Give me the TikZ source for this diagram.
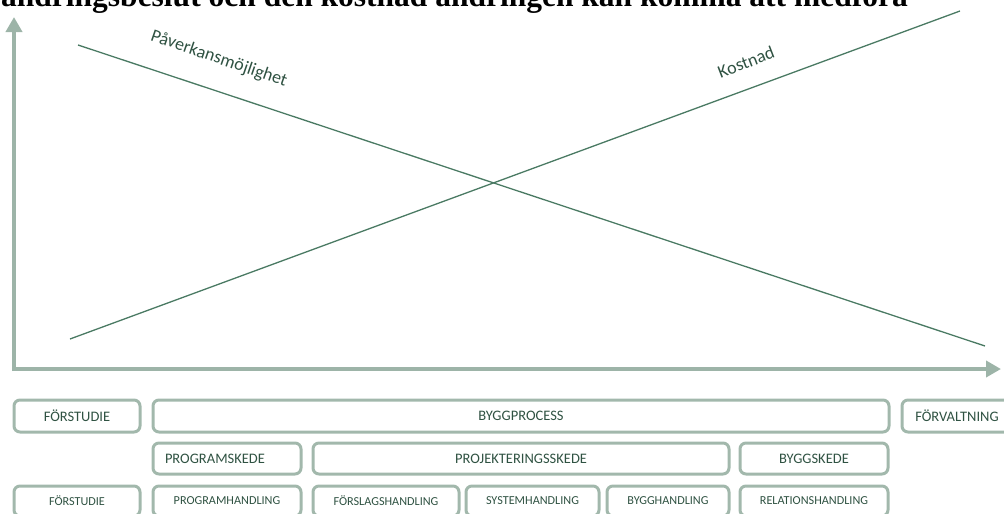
\documentclass[tikz,border=0pt]{standalone}
\usepackage{fontspec}
\setmainfont{Carlito}
\newfontfamily\headfont{Liberation Serif}
\usetikzlibrary{arrows.meta}
\definecolor{axiscol}{HTML}{9DB4A8}
\definecolor{boxcol}{HTML}{A2B8AC}
\definecolor{txtcol}{HTML}{2F5242}
\definecolor{linecol}{HTML}{4A7A63}
\tikzset{
  axis/.style={draw=axiscol, line width=4pt, -{Triangle[length=15pt,width=16pt]}},
  curve/.style={draw=linecol, line width=1.3pt},
  curvelabel/.style={text=txtcol, font=\fontsize{18}{21}\selectfont, inner sep=0pt},
  phase/.style={draw=boxcol, line width=3pt, rounded corners=6pt, text=txtcol, inner sep=0pt},
  bigtxt/.style={font=\fontsize{14.5}{17}\selectfont},
  smalltxt/.style={font=\fontsize{12.2}{14}\selectfont},
}
\newcommand{\phasebox}[7]{%
  \node[phase, #7, minimum width={(#4)-(#2)}, minimum height={(#5)-(#3)}] (#1) at ({((#2)+(#4))/2},{((#3)+(#5))/2}) {#6};}
\begin{document}
\begin{tikzpicture}[x=1pt,y=-1pt]
\useasboundingbox (0,0) rectangle (1004,514);
\clip (0,0) rectangle (1004,514);
% heading (cut off at top)
\node[anchor=base west, inner sep=0pt, font=\headfont\bfseries\fontsize{31.5}{36}\selectfont] (head) at (1,6.5) {ändringsbeslut och den kostnad ändringen kan komma att medföra};
% axes
\coordinate (origin) at (14,369);
\coordinate (ytop) at (14,17);
\coordinate (xend) at (1001,369);
\draw[axis] ([yshift=-2pt]origin) -- (ytop);
\draw[axis] ([xshift=-2pt]origin) -- (xend);
% curves
\coordinate (p1) at (78,45);
\coordinate (p2) at (985,346);
\coordinate (k1) at (70,339);
\coordinate (k2) at (960,11);
\draw[curve] (p1) -- (p2);
\draw[curve] (k1) -- (k2);
\node[curvelabel, rotate=-19] (plabel) at (219,59) {Påverkansmöjlighet};
\node[curvelabel, rotate=21] (klabel) at (746,62) {Kostnad};
% row 1
\phasebox{f1}{14}{400}{140}{432}{FÖRSTUDIE}{bigtxt}
\phasebox{bp}{153}{400}{889}{432}{BYGGPROCESS}{bigtxt}
\phasebox{fv}{902}{400}{1012}{432}{FÖRVALTNING}{bigtxt}
% row 2
\phasebox{ps}{153}{443}{301}{474}{PROGRAMSKEDE}{bigtxt, text width=124pt, inner xsep=12pt, align=left}
\phasebox{pj}{313}{443}{729}{474}{PROJEKTERINGSSKEDE}{bigtxt}
\phasebox{bs}{740}{443}{888}{474}{BYGGSKEDE}{bigtxt}
% row 3
\phasebox{f3}{14}{486}{140}{516}{FÖRSTUDIE}{smalltxt}
\phasebox{ph}{153}{486}{301}{516}{PROGRAMHANDLING}{smalltxt}
\phasebox{fh}{313}{486}{459}{516}{FÖRSLAGSHANDLING}{smalltxt}
\phasebox{sh}{466}{486}{599}{516}{SYSTEMHANDLING}{smalltxt}
\phasebox{bh}{607}{486}{729}{516}{BYGGHANDLING}{smalltxt}
\phasebox{rh}{740}{486}{888}{516}{RELATIONSHANDLING}{smalltxt}
\end{tikzpicture}
\end{document}
